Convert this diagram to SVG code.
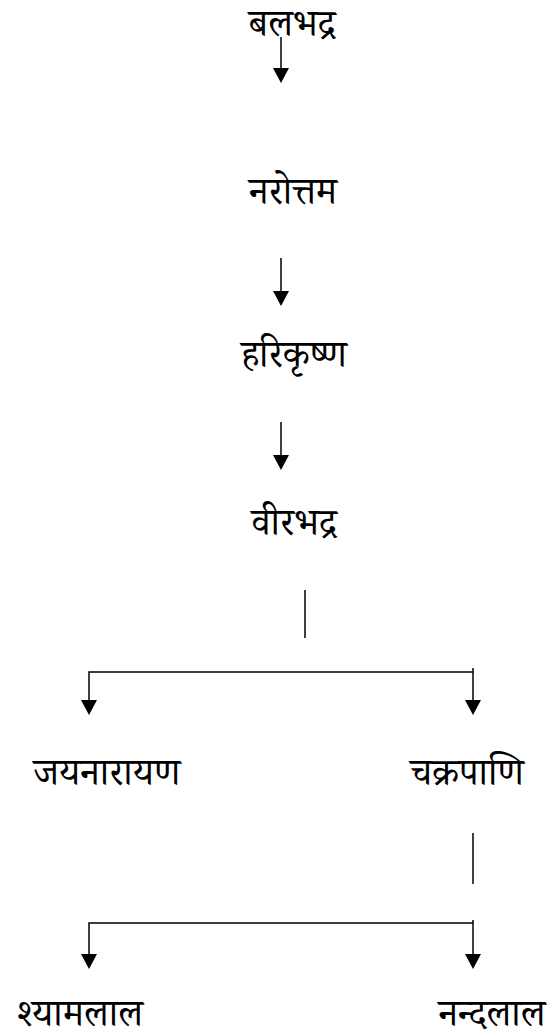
<svg xmlns="http://www.w3.org/2000/svg" width="550" height="1035" viewBox="0 0 550 1035">
<defs>
<style>
text{font-family:"Noto Serif Devanagari","Noto Sans Devanagari","Lohit Devanagari","Mangal",serif;font-size:38px;font-weight:400;fill:#000;text-anchor:middle}
.c{stroke:#000;stroke-width:1.5;fill:none}
</style>
</defs>
<rect width="550" height="1035" fill="#fff"/>
<g id="connectors">
<line class="c" x1="281" y1="37" x2="281" y2="68"/>
<path d="M273,68 L289,68 L281,83 Z"/>
<line class="c" x1="281" y1="258" x2="281" y2="291"/>
<path d="M273,291 L289,291 L281,306 Z"/>
<line class="c" x1="281" y1="422" x2="281" y2="455"/>
<path d="M273,455 L289,455 L281,470 Z"/>
<line class="c" x1="305" y1="590" x2="305" y2="638"/>
<polyline class="c" points="89,700 89,672 473,672"/>
<line class="c" x1="473" y1="668" x2="473" y2="700"/>
<path d="M81,700 L97,700 L89,715 Z"/>
<path d="M465,700 L481,700 L473,715 Z"/>
<line class="c" x1="473" y1="833" x2="473" y2="884"/>
<polyline class="c" points="89,954 89,923 473,923"/>
<line class="c" x1="473" y1="920" x2="473" y2="954"/>
<path d="M81,954 L97,954 L89,969 Z"/>
<path d="M465,954 L481,954 L473,969 Z"/>
</g>
<g id="balabhadra"><text x="292" y="36">बलभद्र</text></g>
<g id="narottama"><text x="293" y="204">नरोत्तम</text></g>
<g id="harikrishna"><text x="294" y="367">हरिकृष्ण</text></g>
<g id="virabhadra"><text x="294" y="535">वीरभद्र</text></g>
<g id="jayanarayana"><text x="107" y="785">जयनारायण</text></g>
<g id="chakrapani"><text x="467" y="785">चक्रपाणि</text></g>
<g id="shyamalala"><text x="80" y="1026">श्यामलाल</text></g>
<g id="nandalala"><text x="492" y="1026">नन्दलाल</text></g>
</svg>
